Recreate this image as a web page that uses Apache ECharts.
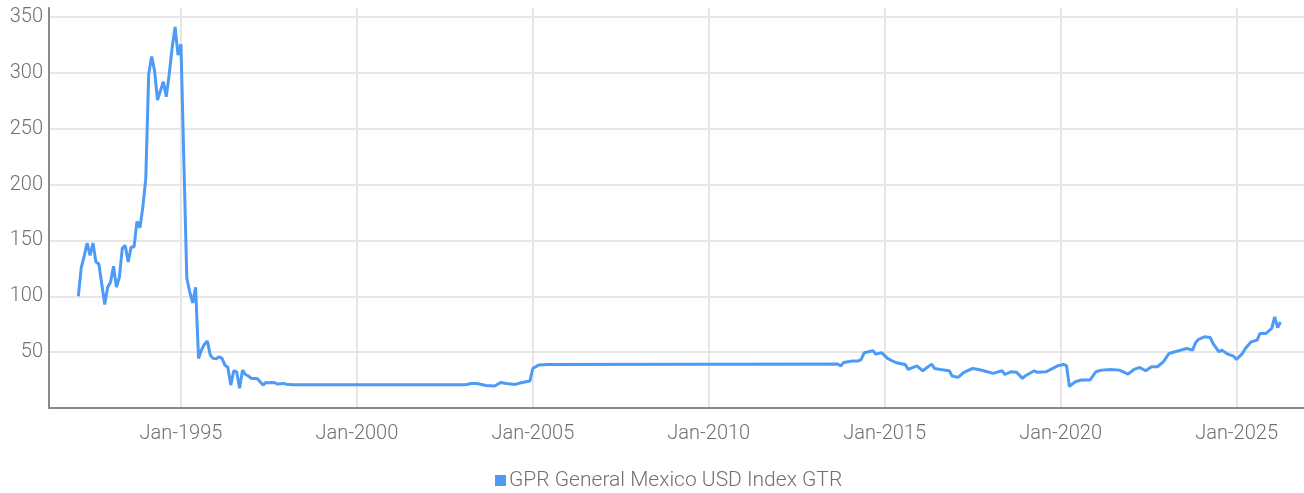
<!DOCTYPE html>
<html>
<head>
<meta charset="utf-8">
<script src="https://cdn.jsdelivr.net/npm/echarts@6/dist/echarts.min.js"></script>
<style>
html,body{margin:0;padding:0;background:#fff;}
#chart{width:1304px;height:493px;}
</style>
</head>
<body>
<div id="chart"></div>
<script>
const seriesName = 'GPR General Mexico USD Index GTR';
const monthNames = ['Jan','Feb','Mar','Apr','May','Jun','Jul','Aug','Sep','Oct','Nov','Dec'];
const axisStart = [1991, 4];
const axisEnd = [2026, 12];
const labelYears = [1995, 2000, 2005, 2010, 2015, 2020, 2025];
const yTicks = [50, 100, 150, 200, 250, 300, 350];

// 1992 - 1997 (monthly readings)
const earlyDates = ['1992-02','1992-03','1992-04','1992-05','1992-06','1992-07','1992-08','1992-09','1992-10','1992-11','1992-12',
  '1993-01','1993-02','1993-03','1993-04','1993-05','1993-06','1993-07','1993-08','1993-09','1993-10','1993-11','1993-12',
  '1994-01','1994-02','1994-03','1994-04','1994-05','1994-06','1994-07','1994-08','1994-09','1994-10','1994-11','1994-12',
  '1995-01','1995-02','1995-03','1995-04','1995-05','1995-06','1995-07','1995-08','1995-09','1995-10','1995-11','1995-12',
  '1996-01','1996-02','1996-03','1996-04','1996-05','1996-06','1996-07','1996-08','1996-09','1996-10','1996-11','1996-12',
  '1997-01','1997-02','1997-03','1997-04','1997-05','1997-06','1997-07','1997-08','1997-09','1997-10','1997-11','1997-12'];
const earlyValues = [100,125.6,136,147.6,136.6,147.6,130.6,129,111,92.6,108,
  112.8,126.8,108.3,117,143,145.5,130.6,144,144,167,161.3,179.7,
  205,298.8,314.6,302,275.6,284,292,278.6,298.8,322.6,341,315.8,
  325.6,220,116,104,94,108,44.4,52,57,60,47.3,44.4,
  44,45.8,44.4,38.4,36.3,20.5,33.3,32.4,17.6,33.9,30,28.6,
  26.5,26.5,26.5,23.5,20.5,22.9,22.5,22.8,22.6,21.4,21.8,22];

// 1998 - 2013
const middleDates = ['1998-01','1998-03','2003-02','2003-04','2003-06','2003-09','2003-12','2004-02','2004-04','2004-07','2004-09','2004-12',
  '2005-01','2005-02','2005-03','2005-06','2013-09'];
const middleValues = [21.2,20.8,20.8,22,22,20.2,19.6,22.9,22,21.1,22.6,24.1,
  35.4,36.9,38.4,39,39.3];

// 2013 - 2026
const lateDates = ['2013-10','2013-11','2014-02','2014-04','2014-05','2014-06','2014-09','2014-10','2014-12',
  '2015-02','2015-03','2015-05','2015-08','2015-09','2015-12','2016-02','2016-05','2016-06','2016-08','2016-11','2016-12',
  '2017-02','2017-04','2017-07','2017-09','2017-12','2018-02','2018-05','2018-06','2018-08','2018-10','2018-12',
  '2019-01','2019-04','2019-05','2019-08','2019-11','2019-12','2020-02','2020-03','2020-04','2020-06','2020-08','2020-11',
  '2021-01','2021-03','2021-06','2021-09','2021-12','2022-02','2022-04','2022-06','2022-08','2022-10','2022-12',
  '2023-02','2023-04','2023-06','2023-08','2023-10','2023-11','2023-12','2024-02','2024-04','2024-05','2024-07','2024-08','2024-10','2024-12',
  '2025-01','2025-03','2025-04','2025-06','2025-08','2025-09','2025-11','2026-01','2026-02','2026-03','2026-04'];
const lateValues = [37.5,40.8,42,42,43.5,49.4,51.2,48.2,49.4,
  44.4,42.9,40.5,39,34.5,37.8,33.3,39.3,35.4,34.5,33.3,28.6,
  27.4,31.9,35.4,34.5,32.4,31,33.3,30,32.4,31.9,26.5,
  28.9,33.3,31.9,32.4,36.3,37.8,39,38,19.3,23.5,25,25,
  32.4,33.9,34.5,33.9,30.4,34.5,36.3,33.3,36.9,36.9,41.3,
  48.8,50.3,51.8,53.3,51.8,58.3,61.3,63.7,63.1,57.7,50.3,51.8,48.2,46.4,
  43.5,48.8,53.3,59.2,60.7,66.7,66.7,71.2,81.5,72,77];

// build monthly categories
const categories = [];
const keys = [];
for (let y = axisStart[0], m = axisStart[1]; y < axisEnd[0] || (y === axisEnd[0] && m <= axisEnd[1]); ) {
  categories.push(monthNames[m - 1] + '-' + y);
  keys.push(y + '-' + String(m).padStart(2, '0'));
  m++; if (m > 12) { m = 1; y++; }
}
const valueByKey = {};
[[earlyDates, earlyValues], [middleDates, middleValues], [lateDates, lateValues]].forEach(([d, v]) => {
  d.forEach((k, i) => { valueByKey[k] = v[i]; });
});
const seriesData = keys.map(k => (k in valueByKey ? valueByKey[k] : null));

const isLabelCat = (idx, val) => {
  const c = categories[idx];
  return c.startsWith('Jan-') && labelYears.includes(parseInt(c.slice(4), 10));
};

const font = 'Roboto, "Noto Sans", sans-serif';
const chart = echarts.init(document.getElementById('chart'), null, { renderer: 'canvas' });
chart.setOption({
  animation: false,
  backgroundColor: '#ffffff',
  grid: { left: 49, right: 0, top: 8, bottom: 85, containLabel: false, outerBoundsMode: 'none' },
  legend: {
    show: true,
    left: 490,
    top: 465,
    icon: 'rect',
    itemWidth: 11,
    itemHeight: 11,
    itemGap: 10,
    textStyle: { fontFamily: font, fontSize: 21, fontWeight: 300, color: '#707070', padding: [0, 0, 0, -2] },
    data: [seriesName]
  },
  xAxis: {
    type: 'category',
    data: categories,
    boundaryGap: false,
    axisLine: { show: true, lineStyle: { color: '#8a8a8a', width: 2 } },
    axisTick: { show: false },
    axisLabel: {
      interval: isLabelCat,
      margin: 16,
      fontFamily: font,
      fontSize: 20,
      fontWeight: 300,
      color: '#707070'
    },
    splitLine: { show: true, interval: isLabelCat, lineStyle: { color: '#e6e6e6', width: 2 } }
  },
  yAxis: {
    type: 'value',
    min: 0,
    max: 358,
    interval: 50,
    axisLine: { show: true, lineStyle: { color: '#8a8a8a', width: 2 } },
    axisTick: { show: false },
    axisLabel: {
      showMinLabel: false,
      showMaxLabel: false,
      margin: 6,
      fontFamily: font,
      fontSize: 20,
      fontWeight: 300,
      color: '#707070',
      formatter: v => (yTicks.includes(v) ? String(v) : '')
    },
    splitLine: { show: true, showMinLine: false, showMaxLine: false, lineStyle: { color: '#e6e6e6', width: 2 } }
  },
  series: [{
    name: seriesName,
    type: 'line',
    data: seriesData,
    connectNulls: true,
    showSymbol: false,
    symbol: 'none',
    color: '#4d9bf7',
    lineStyle: { color: '#4d9bf7', width: 3 },
    itemStyle: { color: '#4d9bf7' }
  }]
});
</script>
</body>
</html>
